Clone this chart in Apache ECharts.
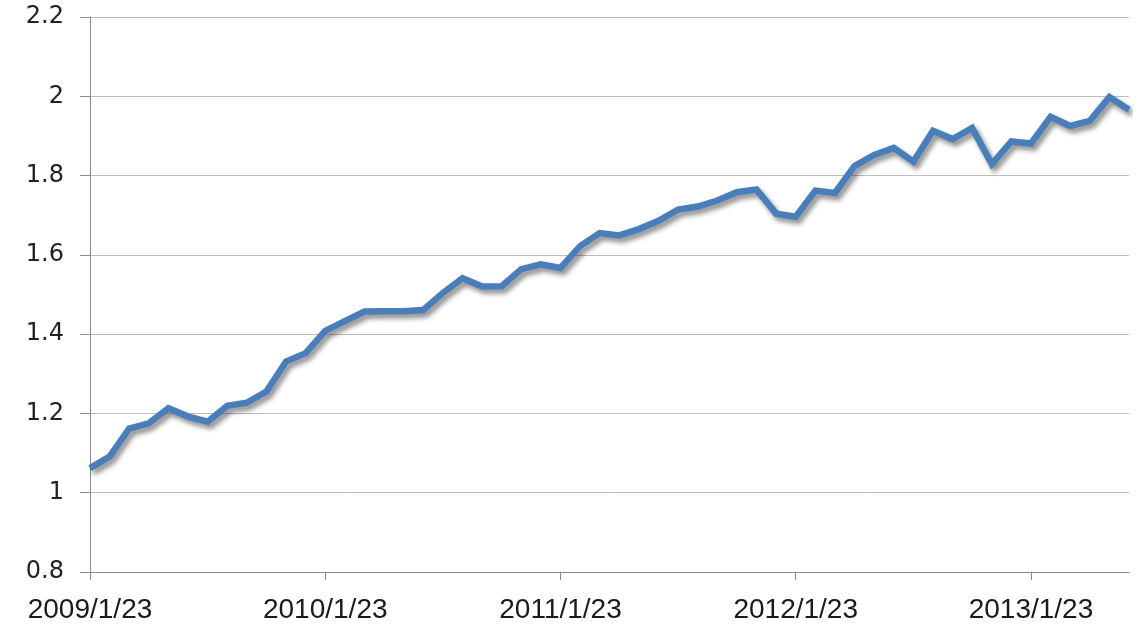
<!DOCTYPE html>
<html>
<head>
<meta charset="utf-8">
<script src="https://cdn.jsdelivr.net/npm/echarts@6/dist/echarts.min.js"></script>
<style>
html,body{margin:0;padding:0;background:#fff;}
#chart{width:1143px;height:633px;}
</style>
</head>
<body>
<div id="chart"></div>
<script>
// Monthly observations, 2009/1/23 .. 2013/6/23
const startYear = 2009, startMonth = 1, day = 23;
const values = [
  1.062, 1.091, 1.162, 1.175, 1.213, 1.192, 1.179, 1.219, 1.227, 1.255,
  1.331, 1.352, 1.408, 1.433, 1.457, 1.458, 1.458, 1.461, 1.504, 1.541,
  1.520, 1.521, 1.564, 1.576, 1.567, 1.622, 1.655, 1.649, 1.665, 1.686,
  1.714, 1.722, 1.737, 1.758, 1.765, 1.704, 1.696, 1.762, 1.756, 1.824,
  1.852, 1.870, 1.835, 1.913, 1.892, 1.920, 1.829, 1.886, 1.881, 1.948,
  1.925, 1.938, 1.998, 1.966
];
const yTicks = [0.8, 1, 1.2, 1.4, 1.6, 1.8, 2, 2.2];

const categories = values.map((v, i) => {
  const m0 = startMonth - 1 + i;
  const y = startYear + Math.floor(m0 / 12);
  const m = (m0 % 12) + 1;
  return y + '/' + m + '/' + day;
});

const chart = echarts.init(document.getElementById('chart'), null, {renderer: 'canvas'});
chart.setOption({
  backgroundColor: '#ffffff',
  animation: false,
  grid: {left: 90, right: 14, top: 17, bottom: 61, containLabel: false},
  xAxis: {
    type: 'category',
    data: categories,
    boundaryGap: false,
    axisLine: {show: true, lineStyle: {color: '#8c8c8c', width: 1}},
    axisTick: {show: true, interval: 11, length: 8, lineStyle: {color: '#8c8c8c'}},
    axisLabel: {
      interval: 11, margin: 24, color: '#1a1a1a',
      fontFamily: 'Liberation Sans, Arial, sans-serif', fontSize: 28
    },
    splitLine: {show: false}
  },
  yAxis: {
    type: 'value',
    min: 0.8, max: 2.2, interval: 0.2,
    axisLine: {show: true, lineStyle: {color: '#8c8c8c', width: 1}},
    axisTick: {show: true, length: 10, lineStyle: {color: '#8c8c8c'}},
    axisLabel: {
      margin: 26, color: '#222',
      fontFamily: 'DejaVu Sans, Verdana, sans-serif', fontSize: 24,
      formatter: function (v) {
        const r = Math.round(v * 10) / 10;
        return yTicks.indexOf(r) >= 0 ? String(r) : '';
      }
    },
    splitLine: {show: true, lineStyle: {color: '#bdbdbd', width: 1}}
  },
  series: [{
    type: 'line',
    data: values,
    symbol: 'none',
    smooth: false,
    lineStyle: {
      color: '#4a7ebb', width: 6.5, join: 'miter',
      shadowColor: 'rgba(0,0,0,0.45)', shadowBlur: 5, shadowOffsetX: 3, shadowOffsetY: 4
    },
    itemStyle: {color: '#4a7ebb'}
  }]
});
</script>
</body>
</html>
